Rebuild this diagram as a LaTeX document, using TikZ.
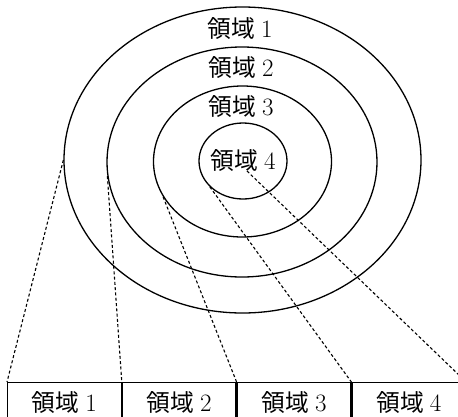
\documentclass[tikz,border=0pt]{standalone}
\usepackage{fontspec}
\newfontfamily\cjk{Noto Sans CJK JP}[Scale=0.95]
\usetikzlibrary{shapes.geometric}
\tikzset{
  ring/.style={draw, ellipse, inner sep=0pt, line width=1.3pt},
  lbl/.style={inner sep=1pt, font=\fontsize{25}{28}\selectfont},
  cell/.style={draw, rectangle, line width=1.3pt, minimum width=113.5pt, minimum height=40pt, inner sep=0pt, anchor=north west, font=\fontsize{25}{28}\selectfont},
  link/.style={line width=1.1pt, dash pattern=on 3pt off 2.3pt}
}
\newcommand{\ryoiki}[1]{{\cjk 領域}\hspace{6pt}#1}
\begin{document}
\begin{tikzpicture}[x=1pt,y=-1pt]
\useasboundingbox (0,0) rectangle (458,416);
\node[ring, minimum width=357pt, minimum height=306pt] (e1) at (242.5,160) {};
\node[ring, minimum width=270pt, minimum height=230pt] (e2) at (242,162) {};
\node[ring, minimum width=178pt, minimum height=151pt] (e3) at (242.5,161.5) {};
\node[ring, minimum width=88pt, minimum height=76pt] (e4) at (243,161) {};
\node[lbl] (l1) at (240,29) {\ryoiki{1}};
\node[lbl] (l2) at (241,68) {\ryoiki{2}};
\node[lbl] (l3) at (241,107) {\ryoiki{3}};
\node[lbl] (l4) at (243,161) {\ryoiki{4}};
\coordinate (p5) at (247,171);
\node[cell] (c1) at (7,382) {\ryoiki{1}};
\node[cell] (c2) at (c1.north east) {\ryoiki{2}};
\node[cell] (c3) at (c2.north east) {\ryoiki{3}};
\node[cell] (c4) at (c3.north east) {\ryoiki{4}};
\draw[link] (e1.west) -- (c1.north west);
\draw[link] (e2.186) -- (c2.north west);
\draw[link] (e3.204) -- (c3.north west);
\draw[link] (e4.218) -- (c4.north west);
\draw[link] (p5) -- (c4.north east);
\end{tikzpicture}
\end{document}
